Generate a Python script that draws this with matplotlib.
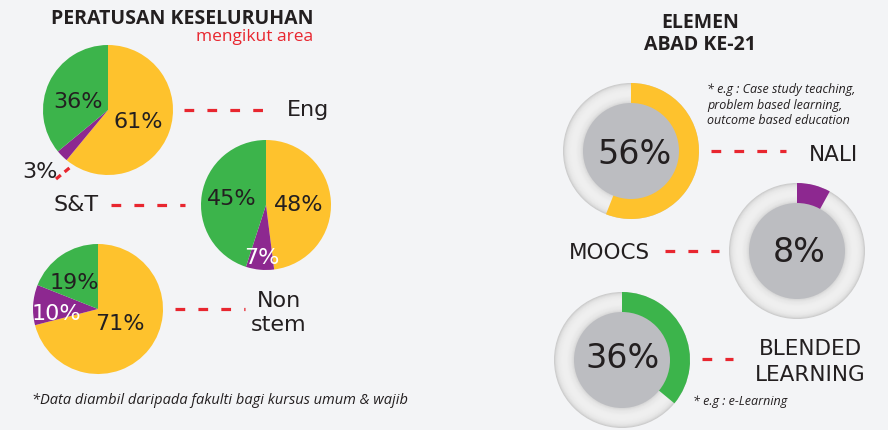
import matplotlib
matplotlib.use("Agg")
import matplotlib.pyplot as plt
from matplotlib.patches import Circle
import numpy as np

plt.rcParams['lines.scale_dashes'] = False

# ---------------- data ----------------
pie_names = ['Eng', 'S&T', 'Non\nstem']
yellow_vals = [61, 48, 71]
purple_vals = [3, 7, 10]
green_vals = [36, 45, 19]

donut_names = ['NALI', 'MOOCS', 'BLENDED\nLEARNING']
donut_vals = [56, 8, 36]

left_title = 'PERATUSAN KESELURUHAN'
left_subtitle = 'mengikut area'
right_title = 'ELEMEN\nABAD KE-21'
footnote = '*Data diambil daripada fakulti bagi kursus umum & wajib'
note_nali = '* e.g : Case study teaching,\nproblem based learning,\noutcome based education'
note_blended = '* e.g : e-Learning'

# ---------------- style ----------------
BG = '#F3F4F6'
YELLOW = '#FEC22D'
GREEN = '#3CB44B'
PURPLE = '#8D2890'
RED = '#E8262F'
DARK = '#231F20'
INNER = '#BCBDC1'
donut_colors = [YELLOW, PURPLE, GREEN]

W, H = 888, 430
fig = plt.figure(figsize=(W / 100, H / 100), dpi=100, facecolor=BG)
ax = fig.add_axes([0, 0, 1, 1])
ax.set_facecolor(BG)


def Y(py):
    return H - py


def dash(x0, y0, x1, y1, pattern=(7, 9.5)):
    ax.plot([x0, x1], [Y(y0), Y(y1)], color=RED, lw=2.3,
            dashes=pattern, solid_capstyle='butt', dash_capstyle='butt', zorder=5)


# ---------------- pies ----------------
pie_centers = [(108, 110), (266, 205), (98, 309)]
pie_r = 65
pct_pos = [
    [(138, 122), (40, 172), (78, 102)],
    [(299, 205), (262, 258), (232, 199)],
    [(120, 324), (56, 314), (74, 283)],
]
pct_colors = [
    [DARK, DARK, DARK],
    [DARK, 'white', DARK],
    [DARK, 'white', DARK],
]
for i, (cx, cy) in enumerate(pie_centers):
    vals = [yellow_vals[i], purple_vals[i], green_vals[i]]
    ax.pie(vals, colors=[YELLOW, PURPLE, GREEN], startangle=90,
           counterclock=False, center=(cx, Y(cy)), radius=pie_r,
           wedgeprops=dict(linewidth=0), frame=True)
    for v, (tx, ty), c in zip(vals, pct_pos[i], pct_colors[i]):
        ax.text(tx, Y(ty), f'{v}%', fontsize=16, color=c,
                ha='center', va='center', zorder=6)

# group labels + leaders
ax.text(287, Y(110), pie_names[0], fontsize=16, color=DARK, ha='left', va='center')
dash(184, 110, 273, 110)
ax.text(76, Y(205), pie_names[1], fontsize=16, color=DARK, ha='center', va='center')
dash(111, 205, 185, 205)
ax.text(279, Y(313), pie_names[2], fontsize=16, color=DARK, ha='center',
        va='center', linespacing=1.25)
dash(175, 309, 245, 309)
dash(56, 179, 73, 165, pattern=(4.5, 3.5))

# ---------------- donuts ----------------
donut_centers = [(631, 151), (797, 251), (622, 360)]
R_out, R_in = 68, 48
ring_profile = [(0.00, 0.80), (0.08, 0.87), (0.2, 0.915), (0.4, 0.94),
                (0.65, 0.935), (0.85, 0.90), (1.0, 0.83)]
ts = np.linspace(0, 1, 24)
prof_t = [p[0] for p in ring_profile]
prof_v = [p[1] for p in ring_profile]
for i, (cx, cy) in enumerate(donut_centers):
    for t in ts:
        r = R_out - t * (R_out - R_in)
        g = np.interp(t, prof_t, prof_v)
        ax.add_patch(Circle((cx, Y(cy)), r, color=(g, g, g), lw=0, zorder=1))
    v = donut_vals[i]
    ax.pie([v, 100 - v], colors=[donut_colors[i], (0, 0, 0, 0)], startangle=90,
           counterclock=False, center=(cx, Y(cy)), radius=R_out,
           wedgeprops=dict(width=R_out - R_in + 1, linewidth=0, zorder=2), frame=True)
    ax.add_patch(Circle((cx, Y(cy)), R_in, color=INNER, lw=0, zorder=3))

pct_big = [(634, 155), (799, 253), (623, 359)]
for v, (tx, ty) in zip(donut_vals, pct_big):
    ax.text(tx, Y(ty), f'{v}%', fontsize=24, color=DARK, ha='center',
            va='center', zorder=6)

ax.text(833, Y(155), donut_names[0], fontsize=15.5, color=DARK, ha='center', va='center')
dash(711, 151, 786, 151)
ax.text(609, Y(253), donut_names[1], fontsize=15.5, color=DARK, ha='center', va='center')
dash(665, 251, 719, 251)
ax.text(810, Y(362), donut_names[2], fontsize=15.5, color=DARK, ha='center',
        va='center', linespacing=1.35)
dash(702, 359, 733, 359)

# ---------------- titles and notes ----------------
ax.text(313, Y(19), left_title, fontsize=14, fontweight='bold', color=DARK,
        ha='right', va='center', family='Open Sans')
ax.text(313, Y(37), left_subtitle, fontsize=12.5, color=RED, ha='right',
        va='center', family='Open Sans')
ax.text(700, Y(34), right_title, fontsize=14, fontweight='bold', color=DARK,
        ha='center', va='center', family='Open Sans', linespacing=1.15)
ax.text(32, Y(400), footnote, fontsize=10.5, style='italic', color=DARK,
        ha='left', va='center', family='Open Sans')
ax.text(707, Y(105), note_nali, fontsize=9, style='italic', color=DARK,
        ha='left', va='center', family='Open Sans', linespacing=1.25)
ax.text(693, Y(402), note_blended, fontsize=9, style='italic', color=DARK,
        ha='left', va='center', family='Open Sans')

ax.set_xlim(0, W)
ax.set_ylim(0, H)
ax.set_aspect('auto')
ax.axis('off')
fig.savefig('out.png', dpi=100, facecolor=BG)
